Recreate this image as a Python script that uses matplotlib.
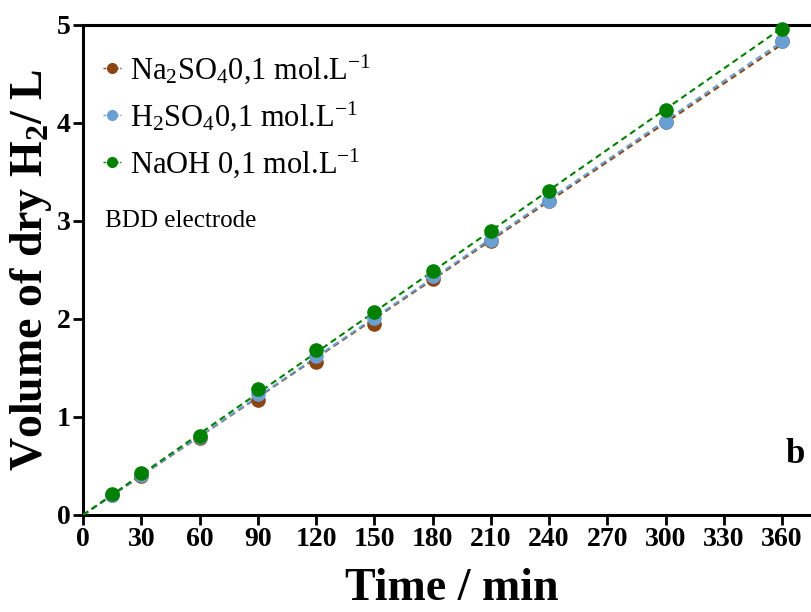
import numpy as np
import matplotlib
matplotlib.use("Agg")
import matplotlib.pyplot as plt
from matplotlib.lines import Line2D

time_min = [15, 30, 60, 90, 120, 150, 180, 210, 240, 300, 360]
na2so4 = [0.20, 0.40, 0.79, 1.17, 1.56, 1.95, 2.41, 2.80, 3.20, 4.01, 4.84]
h2so4 = [0.20, 0.41, 0.80, 1.23, 1.62, 2.01, 2.44, 2.81, 3.20, 4.01, 4.84]
naoh = [0.21, 0.43, 0.81, 1.29, 1.68, 2.07, 2.49, 2.90, 3.31, 4.13, 4.96]

labels = [r'Na$_2$SO$_4$0,1 mol.L$^{-1}$',
          r'H$_2$SO$_4$0,1 mol.L$^{-1}$',
          r'NaOH 0,1 mol.L$^{-1}$']
colors = ['#8B4513', '#6A9FD4', '#008000']
xticks = [0, 30, 60, 90, 120, 150, 180, 210, 240, 270, 300, 330, 360]
yticks = [0, 1, 2, 3, 4, 5]

plt.rcParams['font.family'] = ['Liberation Serif', 'DejaVu Serif']
plt.rcParams['mathtext.fontset'] = 'custom'
plt.rcParams['mathtext.rm'] = 'Liberation Serif'
plt.rcParams['mathtext.it'] = 'Liberation Serif:italic'
plt.rcParams['mathtext.bf'] = 'Liberation Serif:bold'

fig = plt.figure(figsize=(8.11, 6.12), dpi=100)
ax = fig.add_axes([83/811, 97/612, 380*1.9417/811, 490/612])

series = [na2so4, h2so4, naoh]
t = np.array(time_min, dtype=float)
fit_x = np.array([0, 360])
handles = []
for vals, c, lab in zip(series, colors, labels):
    v = np.array(vals)
    slope = np.sum(t * v) / np.sum(t * t)
    ax.plot(fit_x, slope * fit_x, color=c, lw=1.5, ls=(0, (3, 2)), zorder=3)
    ax.plot(t, v, 'o', color=c, ms=9.5, zorder=4, clip_on=False)
    handles.append(Line2D([0], [0], color=c, marker='o', ms=7, lw=1,
                          ls=(0, (2, 1))))

ax.set_xlim(0, 380)
ax.set_ylim(0, 5)
ax.set_xticks(xticks)
ax.set_yticks(yticks)
for lbl in ax.get_xticklabels() + ax.get_yticklabels():
    lbl.set_fontweight('bold')
    lbl.set_fontsize(20)
ax.tick_params(direction='out', length=7, width=2, pad=2)
for s in ax.spines.values():
    s.set_linewidth(2.2)

ax.set_xlabel('Time / min', fontsize=33, fontweight='bold', labelpad=11)
ax.set_ylabel(r'Volume of dry H$_\mathbf{2}$/ L', fontsize=33, fontweight='bold', labelpad=2)

leg = ax.legend(handles, labels, loc='upper left', bbox_to_anchor=(0.0, 0.985),
                frameon=False, fontsize=22, handlelength=0.6, handletextpad=0.3,
                labelspacing=0.45, borderaxespad=0.25)

ax.text(0.03, 0.6, 'BDD electrode', transform=ax.transAxes, fontsize=18,
        va='center', ha='left')
ax.text(362, 0.62, 'b', fontsize=25, fontweight='bold', ha='left', va='center')

fig.savefig('out.png', dpi=100)
